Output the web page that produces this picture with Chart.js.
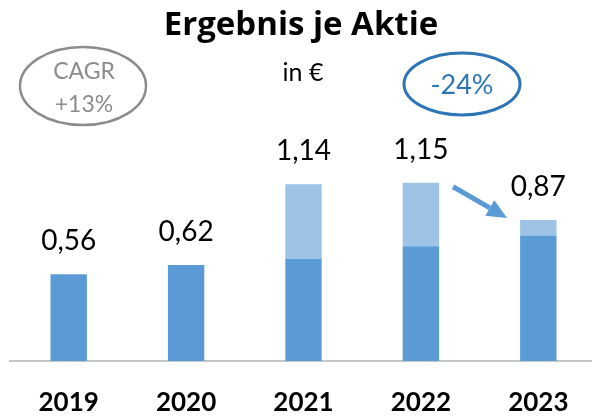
<!DOCTYPE html>
<html>
<head>
<meta charset="utf-8">
<script src="https://cdn.jsdelivr.net/npm/chart.js@4/dist/chart.umd.min.js"></script>
<style>
    html, body { margin: 0; padding: 0; background: #fff; overflow: hidden; }
    #wrap { width: 597px; height: 416px; }
</style>
</head>
<body>
<div id="wrap"><canvas id="myChart"></canvas></div>
<script>
    // Jahre und Werte (Ergebnis je Aktie in €)
    const jahre = ['2019', '2020', '2021', '2022', '2023'];
    const basis = [0.56, 0.62, 0.66, 0.74, 0.81];
    const sonder = [0, 0, 0.48, 0.41, 0.10];
    const werteText = ['0,56', '0,62', '1,14', '1,15', '0,87'];

    const dunkel = '#5B9BD5';
    const hell = '#9DC3E6';

    // Titel, Ellipsen, Werte und Pfeil
    const beschriftung = {
        id: 'beschriftung',
        afterDraw: (chart) => {
            const ctx = chart.ctx;
            ctx.save();
            ctx.textAlign = 'center';
            ctx.textBaseline = 'middle';

            ctx.fillStyle = '#000';
            ctx.font = 'bold 33px "Open Sans"';
            ctx.fillText('Ergebnis je Aktie', 301, 26);
            ctx.font = '25px Lato';
            ctx.fillText('in €', 303, 73);

            // CAGR
            ctx.strokeStyle = '#8C8C8C';
            ctx.lineWidth = 2.5;
            ctx.beginPath();
            ctx.ellipse(83, 86, 63, 39, 0, 0, Math.PI * 2);
            ctx.stroke();
            ctx.fillStyle = '#8C8C8C';
            ctx.font = '23px Lato';
            ctx.fillText('CAGR', 84, 72);
            ctx.fillText('+13%', 84, 105);

            // -24%
            ctx.strokeStyle = '#2E75B6';
            ctx.lineWidth = 3;
            ctx.beginPath();
            ctx.ellipse(462, 84, 58, 31, 0, 0, Math.PI * 2);
            ctx.stroke();
            ctx.fillStyle = '#2E75B6';
            ctx.font = '27px Lato';
            ctx.fillText('-24%', 462, 85);

            // Werte über den Balken
            const oben = chart.getDatasetMeta(1).data;
            ctx.fillStyle = '#000';
            ctx.font = '28px Lato';
            oben.forEach((bar, i) => {
                ctx.fillText(werteText[i], bar.x, bar.y - 33);
            });

            // Pfeil 2022 -> 2023
            const a = oben[3], b = oben[4];
            const x1 = a.x + a.width / 2 + 14, y1 = a.y + 4;
            const x2 = b.x - b.width / 2 - 13, y2 = b.y - 2;
            const ang = Math.atan2(y2 - y1, x2 - x1);
            const kopf = 20;
            ctx.strokeStyle = dunkel;
            ctx.fillStyle = dunkel;
            ctx.lineWidth = 5;
            ctx.beginPath();
            ctx.moveTo(x1, y1);
            ctx.lineTo(x2 - kopf * Math.cos(ang), y2 - kopf * Math.sin(ang));
            ctx.stroke();
            ctx.beginPath();
            ctx.moveTo(x2, y2);
            ctx.lineTo(x2 - kopf * Math.cos(ang) + 9 * Math.sin(ang), y2 - kopf * Math.sin(ang) - 9 * Math.cos(ang));
            ctx.lineTo(x2 - kopf * Math.cos(ang) - 9 * Math.sin(ang), y2 - kopf * Math.sin(ang) + 9 * Math.cos(ang));
            ctx.closePath();
            ctx.fill();
            ctx.restore();
        }
    };

    const config = {
        type: 'bar',
        data: {
            labels: jahre,
            datasets: [{
                label: 'Basis',
                data: basis,
                backgroundColor: dunkel,
                barPercentage: 0.31,
                categoryPercentage: 1
            }, {
                label: 'Sonder',
                data: sonder,
                backgroundColor: hell,
                barPercentage: 0.31,
                categoryPercentage: 1
            }]
        },
        options: {
            responsive: true,
            maintainAspectRatio: false,
            animation: false,
            layout: {
                padding: { top: 144, left: 10, right: 0, bottom: 0 }
            },
            plugins: {
                legend: { display: false },
                tooltip: { enabled: false },
                title: { display: false }
            },
            scales: {
                x: {
                    stacked: true,
                    grid: { display: false, drawTicks: false },
                    border: { display: true, color: '#C6C6C6', width: 2 },
                    ticks: {
                        color: '#000',
                        padding: 26,
                        font: { family: 'Lato', size: 26, weight: 'bold', lineHeight: 1.2 }
                    },
                    afterFit: (scale) => { scale.height = 55; }
                },
                y: {
                    stacked: true,
                    display: false,
                    min: 0,
                    max: 1.4
                }
            }
        },
        plugins: [beschriftung]
    };

    const myChart = new Chart(document.getElementById('myChart'), config);
</script>
</body>
</html>
